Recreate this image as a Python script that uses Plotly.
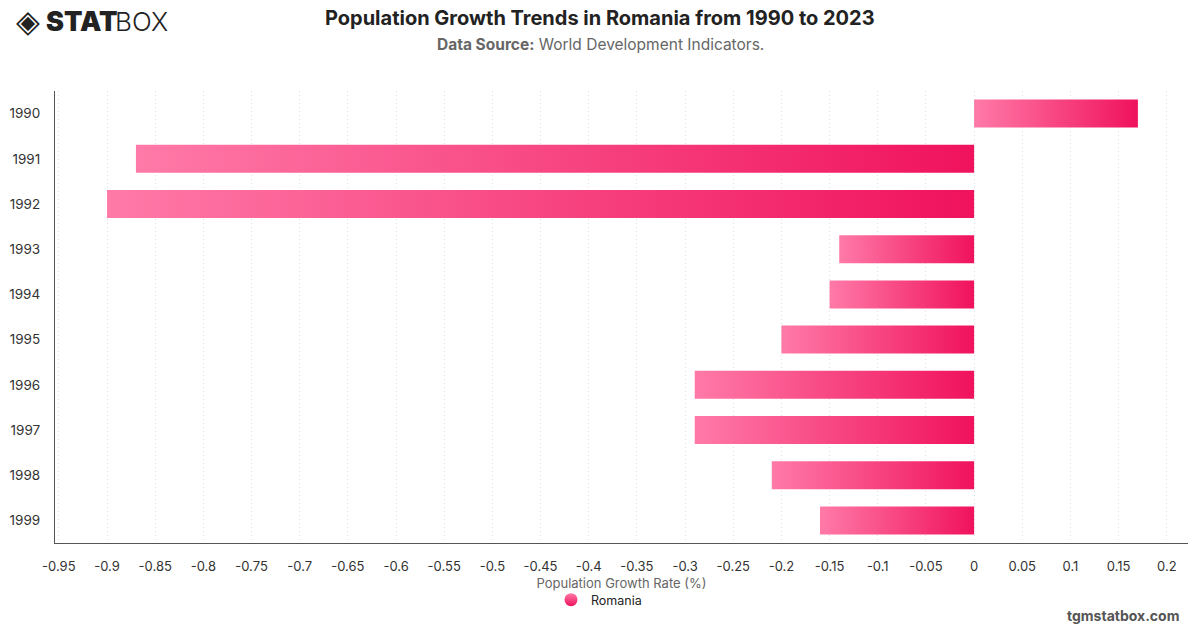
import plotly.graph_objects as go

# ---------------- data ----------------
years = ["1990", "1991", "1992", "1993", "1994", "1995", "1996", "1997", "1998", "1999"]
growth = [0.17, -0.87, -0.90, -0.14, -0.15, -0.20, -0.29, -0.29, -0.21, -0.16]
tick_vals = [-0.95, -0.9, -0.85, -0.8, -0.75, -0.7, -0.65, -0.6, -0.55, -0.5, -0.45,
             -0.4, -0.35, -0.3, -0.25, -0.2, -0.15, -0.1, -0.05, 0, 0.05, 0.1, 0.15, 0.2]
tick_text = ["-0.95", "-0.9", "-0.85", "-0.8", "-0.75", "-0.7", "-0.65", "-0.6", "-0.55",
             "-0.5", "-0.45", "-0.4", "-0.35", "-0.3", "-0.25", "-0.2", "-0.15", "-0.1",
             "-0.05", "0", "0.05", "0.1", "0.15", "0.2"]
series_name = "Romania"

# ---------------- layout constants ----------------
W, H = 1200, 628
ML, MR, MT, MB = 55, 12, 91, 85
PW, PH = W - ML - MR, H - MT - MB
BAR_W = 0.62
LIGHT, DARK = "#ff7aa8", "#f0125d"
FONT = "Inter, Roboto, Arial, sans-serif"


def px(x):
    return (x - ML) / PW


def py(y):
    return 1 - (y - MT) / PH


fig = go.Figure()

for i, (yr, v) in enumerate(zip(years, growth)):
    x0, x1 = min(0, v), max(0, v)
    y0, y1 = i - BAR_W / 2, i + BAR_W / 2
    fig.add_trace(go.Scatter(
        x=[x0, x1, x1, x0, x0],
        y=[y0, y0, y1, y1, y0],
        mode="lines",
        fill="toself",
        fillgradient=dict(type="horizontal",
                          colorscale=[[0, LIGHT], [1, DARK]]),
        line=dict(width=0),
        hoverinfo="text",
        text=f"{yr}: {v}",
        showlegend=False,
    ))

# legend entry
fig.add_trace(go.Scatter(
    x=[None], y=[None], mode="markers", name=series_name,
    marker=dict(size=13, color=LIGHT, symbol="circle",
                gradient=dict(type="vertical", color=DARK)),
    showlegend=True,
))

fig.update_layout(
    width=W, height=H, autosize=False,
    margin=dict(l=ML, r=MR, t=MT, b=MB, autoexpand=False),
    paper_bgcolor="white", plot_bgcolor="white",
    font=dict(family=FONT, color="#333"),
    showlegend=True,
    legend=dict(orientation="h", x=px(599), xanchor="center",
                y=py(600), yanchor="middle",
                font=dict(size=12.5, color="#222")),
    xaxis=dict(
        range=[-0.954, 0.222],
        tickvals=tick_vals, ticktext=tick_text, tickangle=0,
        tickfont=dict(size=13, color="#333"),
        showgrid=True, gridcolor="#e0e0e0", griddash="1px,3px", gridwidth=1,
        zeroline=False,
        showline=True, linecolor="#555", linewidth=1.2,
        ticks="", ticklabelstandoff=11,
        title=dict(text="Population Growth Rate (%)",
                   font=dict(size=13, color="#666"), standoff=6),
        fixedrange=True,
    ),
    yaxis=dict(
        range=[9.5, -0.5],
        tickvals=list(range(len(years))), ticktext=years,
        tickfont=dict(size=13.5, color="#333"),
        showgrid=False, zeroline=False,
        showline=True, linecolor="#555", linewidth=1.2,
        ticks="", ticklabelstandoff=11,
        fixedrange=True,
    ),
)

ann = [
    dict(text="<b>Population Growth Trends in Romania from 1990 to 2023</b>",
         x=px(600), y=py(18), font=dict(size=20, color="#222", family=FONT)),
    dict(text="<b>Data Source:</b> World Development Indicators.",
         x=px(600), y=py(45), font=dict(size=15.5, color="#666", family=FONT)),
    dict(text="tgmstatbox.com", x=px(1181), xanchor="right", y=py(615),
         font=dict(size=14, color="#555", family=FONT, weight="bold")),
    dict(text="◈", x=px(14), xanchor="left", y=py(21),
         font=dict(size=31, color="#222", family="DejaVu Sans")),
    dict(text="STAT", x=px(44), xanchor="left", y=py(22),
         font=dict(size=27, color="#222", family="Inter, Roboto", weight=900)),
    dict(text="BOX", x=px(113), xanchor="left", y=py(22),
         font=dict(size=26, color="#222", family="Inter, Roboto", weight=300)),
]
for a in ann:
    a.setdefault("xanchor", "center")
    a.update(xref="paper", yref="paper", yanchor="middle", showarrow=False)
    fig.add_annotation(**a)

fig.write_html("out.html")
